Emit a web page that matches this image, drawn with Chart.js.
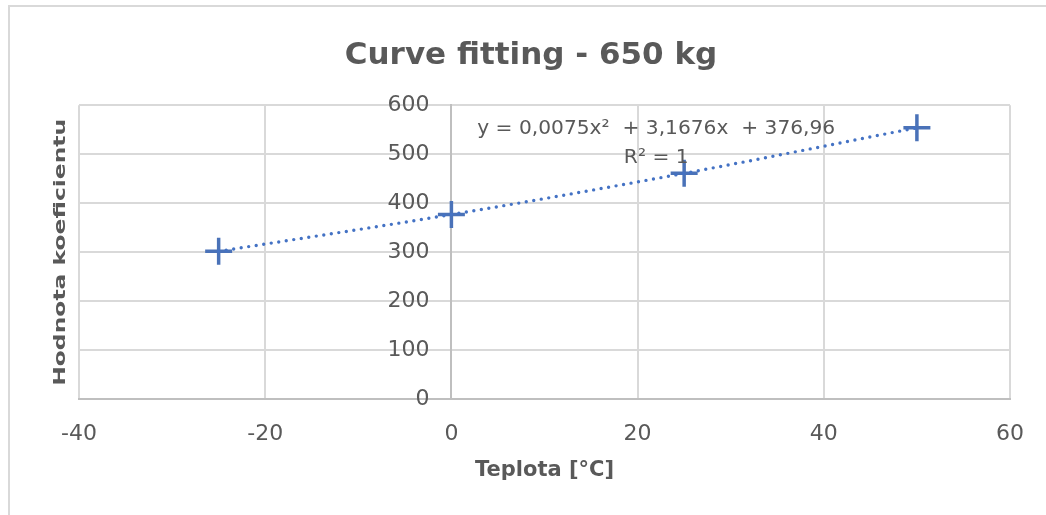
<!DOCTYPE html>
<html lang="cs">

<head>
    <meta charset="UTF-8">
    <meta name="viewport" content="width=device-width, initial-scale=1.0">
    <title>Curve fitting - 650 kg</title>
    <script src="https://cdn.jsdelivr.net/npm/chart.js"></script>
</head>

<style>
    * {
        box-sizing: border-box;
        margin: 0;
        padding: 0;
    }

    body {
        width: 1046px;
        height: 515px;
        overflow: hidden;
        background: #fff;
    }

    .outer-frame {
        position: absolute;
        left: 8px;
        top: 5px;
        width: 1200px;
        height: 700px;
        border-left: 2px solid #d9d9d9;
        border-top: 2px solid #d9d9d9;
    }

    .chart-box {
        position: absolute;
        left: 0;
        top: 0;
        width: 1046px;
        height: 515px;
    }
</style>

<body>
    <div class="outer-frame"></div>
    <div class="chart-box">
        <canvas id="myChart"></canvas>
    </div>

    <script>
        // values
        const temperatures = [-25, 0, 25, 50];
        const coefficients = [302, 377, 461, 554];
        const xTicks = [-40, -20, 0, 20, 40, 60];
        const yTicks = [0, 100, 200, 300, 400, 500, 600];
        const trendLabel = ['y = 0,0075x\u00B2  + 3,1676x  + 376,96', 'R\u00B2 = 1'];
        const yAxisTitle = 'Hodnota koeficientu';

        const textColor = '#595959';
        const gridColor = '#d9d9d9';
        const blue = '#4472C4';
        const fontFamily = "'DejaVu Sans', sans-serif";

        // y labels sit left of the axis that crosses at x = 0,
        // plus the rotated axis title and the trendline equation
        const extraTextPlugin = {
            id: 'extraText',
            afterDatasetsDraw(chart) {
                const ctx = chart.ctx;
                const xs = chart.scales.x;
                const ys = chart.scales.y;
                const area = chart.chartArea;
                ctx.save();
                ctx.fillStyle = textColor;

                ctx.font = '22px ' + fontFamily;
                ctx.textAlign = 'right';
                ctx.textBaseline = 'middle';
                const axisX = xs.getPixelForValue(0);
                yTicks.forEach(v => ctx.fillText(String(v), axisX - 22, ys.getPixelForValue(v)));

                ctx.font = '20.2px ' + fontFamily;
                ctx.textAlign = 'center';
                const eqX = xs.getPixelForValue(22);
                ctx.fillText(trendLabel[0], eqX, ys.getPixelForValue(551));
                ctx.fillText(trendLabel[1], eqX, ys.getPixelForValue(492));

                ctx.translate(area.left - 18, (area.top + area.bottom) / 2);
                ctx.rotate(-Math.PI / 2);
                ctx.scale(1.42, 1);
                ctx.font = 'bold 16.5px ' + fontFamily;
                ctx.fillText(yAxisTitle, 0, 0);
                ctx.restore();
            }
        };

        const points = temperatures.map((t, i) => ({ x: t, y: coefficients[i] }));

        const config = {
            type: 'scatter',
            data: {
                datasets: [
                    {
                        label: 'Trend',
                        data: points,
                        showLine: true,
                        cubicInterpolationMode: 'monotone',
                        borderColor: blue,
                        borderWidth: 3.4,
                        borderDash: [0, 7.6],
                        borderCapStyle: 'round',
                        pointRadius: 0,
                        order: 0
                    },
                    {
                        label: yAxisTitle,
                        data: points,
                        pointStyle: 'cross',
                        pointRadius: 13.5,
                        pointBorderWidth: 3.5,
                        pointBorderColor: '#4a72b8',
                        pointBackgroundColor: '#4a72b8',
                        order: 1
                    }
                ]
            },
            plugins: [extraTextPlugin],
            options: {
                responsive: true,
                maintainAspectRatio: false,
                animation: false,
                layout: {
                    padding: { left: 52, right: 36, top: 0, bottom: 32 }
                },
                plugins: {
                    legend: { display: false },
                    tooltip: { enabled: false },
                    title: {
                        display: true,
                        text: 'Curve fitting - 650 kg',
                        color: textColor,
                        font: { family: fontFamily, size: 31, weight: 'bold' },
                        padding: { top: 37, bottom: 31 }
                    }
                },
                scales: {
                    x: {
                        type: 'linear',
                        position: 'bottom',
                        min: xTicks[0],
                        max: xTicks[xTicks.length - 1],
                        afterBuildTicks: (axis) => { axis.ticks = xTicks.map(v => ({ value: v })); },
                        grid: { color: gridColor, lineWidth: 2, drawTicks: false },
                        border: { color: '#bfbfbf', width: 2 },
                        ticks: {
                            color: textColor,
                            padding: 22,
                            font: { family: fontFamily, size: 22 }
                        },
                        title: {
                            display: true,
                            text: 'Teplota [°C]',
                            color: textColor,
                            font: { family: fontFamily, size: 21, weight: 'bold' },
                            padding: { top: -12, bottom: 0 }
                        }
                    },
                    y: {
                        type: 'linear',
                        position: { x: 0 },
                        min: yTicks[0],
                        max: yTicks[yTicks.length - 1],
                        afterBuildTicks: (axis) => { axis.ticks = yTicks.map(v => ({ value: v })); },
                        grid: { color: gridColor, lineWidth: 2, drawTicks: false },
                        border: { color: '#bfbfbf', width: 2 },
                        ticks: { display: false }
                    },
                    // empty left strip that keeps room for the rotated title
                    yTitleSpace: {
                        type: 'linear',
                        position: 'left',
                        grid: { display: false, drawTicks: false },
                        border: { display: false },
                        ticks: { display: false },
                        afterFit: (axis) => { axis.width = 27; }
                    }
                }
            }
        };

        const myChart = new Chart(document.getElementById('myChart'), config);
    </script>
</body>

</html>
